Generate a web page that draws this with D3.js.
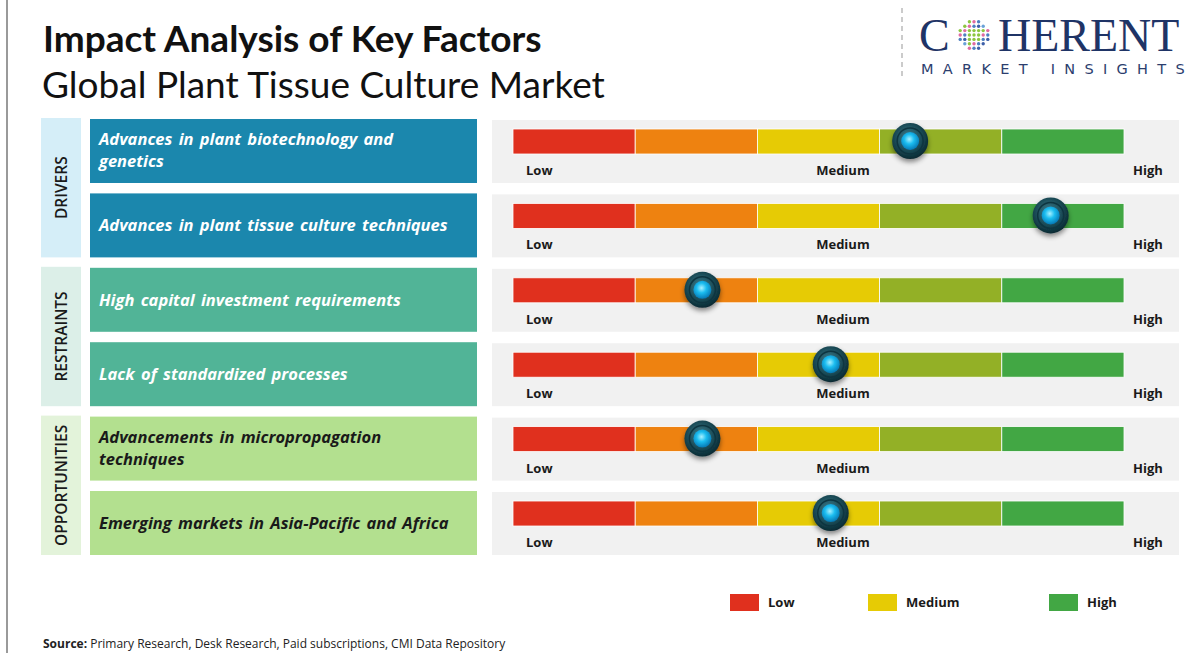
<!DOCTYPE html>
<html>
<head>
<meta charset="utf-8">
<script src="https://cdn.jsdelivr.net/npm/d3@7"></script>
<style>
  body { margin: 0; background: #fff; }
  svg { display: block; }
</style>
</head>
<body>
<svg width="1193" height="653"></svg>
<script>
// data
const groups = ['DRIVERS', 'RESTRAINTS', 'OPPORTUNITIES'];
const factors = [
  ['Advances in plant biotechnology and', 'genetics'],
  ['Advances in plant tissue culture techniques'],
  ['High capital investment requirements'],
  ['Lack of standardized  processes'],
  ['Advancements in micropropagation', 'techniques'],
  ['Emerging markets in Asia-Pacific and Africa']
];
const factorGroup = [0, 0, 1, 1, 2, 2];
const impact = [65, 88, 31, 52, 31, 52];
const levels = ['Low', 'Medium', 'High'];
const segmentStops = [0, 20, 40, 60, 80, 100];

const segColors = ['#e0301e', '#ee8210', '#e6cb05', '#93b026', '#42a744'];
const groupBg = ['#d5eef8', '#dcefe8', '#e3f3da'];
const factorBg = ['#1b87ad', '#51b497', '#b3e08f'];
const factorText = ['#ffffff', '#ffffff', '#1a1a1a'];
const legendColors = ['#e0301e', '#e6cb05', '#42a744'];

const svg = d3.select('svg');
const defs = svg.append('defs');

// marker gradients
const outerG = defs.append('radialGradient').attr('id', 'knobOuter')
  .attr('cx', '45%').attr('cy', '40%').attr('r', '60%');
outerG.append('stop').attr('offset', '0%').attr('stop-color', '#3f7f8e');
outerG.append('stop').attr('offset', '70%').attr('stop-color', '#16444f');
outerG.append('stop').attr('offset', '100%').attr('stop-color', '#0b2a33');
const innerG = defs.append('radialGradient').attr('id', 'knobInner')
  .attr('cx', '45%').attr('cy', '40%').attr('r', '60%');
innerG.append('stop').attr('offset', '0%').attr('stop-color', '#a8f0ff');
innerG.append('stop').attr('offset', '45%').attr('stop-color', '#1bbdf0');
innerG.append('stop').attr('offset', '100%').attr('stop-color', '#0679b5');
const shadow = defs.append('filter').attr('id', 'shadow')
  .attr('x', '-50%').attr('y', '-50%').attr('width', '200%').attr('height', '200%');
shadow.append('feDropShadow').attr('dx', 0).attr('dy', 3).attr('stdDeviation', 2.5)
  .attr('flood-color', '#000').attr('flood-opacity', 0.45);

// left rule
svg.append('line').attr('x1', 7).attr('x2', 7).attr('y1', 0).attr('y2', 653)
  .attr('stroke', '#9a9a9a').attr('stroke-width', 2);

// titles
svg.append('text').attr('x', 43).attr('y', 52)
  .attr('font-family', 'Lato, sans-serif').attr('font-weight', 700)
  .attr('font-size', 37).attr('fill', '#111')
  .text('Impact Analysis of Key Factors');
svg.append('text').attr('x', 42).attr('y', 98)
  .attr('font-family', 'Lato, sans-serif').attr('font-size', 37).attr('fill', '#111')
  .text('Global Plant Tissue Culture Market');

// logo
svg.append('line').attr('x1', 902).attr('x2', 902).attr('y1', 8).attr('y2', 76)
  .attr('stroke', '#bbb').attr('stroke-width', 1.5).attr('stroke-dasharray', '5,4');
const logo = svg.append('g');
logo.append('text').attr('x', 919).attr('y', 51)
  .attr('font-family', '"Liberation Serif", serif').attr('font-size', 46)
  .attr('fill', '#1f3466').text('C');
logo.append('text').attr('x', 998).attr('y', 51)
  .attr('font-family', '"Liberation Serif", serif').attr('font-size', 46)
  .attr('fill', '#1f3466').text('HERENT');
// dotted globe in place of the O
const dotColors = ['#3d5fa8', '#6aa2d8', '#8cc63f', '#e06aa0', '#4e7fc0'];
for (let r = -3; r <= 3; r++) {
  for (let c = -3; c <= 3; c++) {
    if (r * r + c * c > 11) continue;
    const near = r * r + c * c <= 3;
    logo.append('circle')
      .attr('cx', 974 + c * 4.6).attr('cy', 35 + r * 4.4).attr('r', 1.7)
      .attr('fill', near ? '#8cc63f' : dotColors[(r + c + 6) % 5]);
  }
}
logo.append('text').attr('x', 921).attr('y', 74)
  .attr('font-family', '"DejaVu Sans", sans-serif').attr('font-size', 14.5)
  .attr('letter-spacing', 9.3).attr('fill', '#2c3e6e').text('MARKET INSIGHTS');

// scales
const y = d3.scaleBand().domain(d3.range(factors.length)).range([119, 555])
  .paddingInner(0.14).paddingOuter(0);
const x = d3.scaleLinear().domain([0, 100]).range([513, 1124]);

// group boxes
groups.forEach((g, gi) => {
  const rows = d3.range(factors.length).filter(i => factorGroup[i] === gi);
  const top = y(rows[0]) - 1;
  const bot = y(rows[rows.length - 1]) + y.bandwidth();
  svg.append('rect').attr('x', 41).attr('y', top).attr('width', 40).attr('height', bot - top)
    .attr('fill', groupBg[gi]);
  svg.append('text')
    .attr('transform', `translate(67,${(top + bot) / 2}) rotate(-90)`)
    .attr('text-anchor', 'middle')
    .attr('font-family', '"Open Sans", sans-serif').attr('font-weight', 600)
    .attr('font-size', 15.5).attr('fill', '#1a1a1a').text(g);
});

// factor rows
const row = svg.selectAll('g.row').data(factors).join('g')
  .attr('class', 'row')
  .attr('transform', (d, i) => `translate(0,${y(i)})`);

row.append('rect').attr('x', 90).attr('y', 0).attr('width', 387).attr('height', y.bandwidth())
  .attr('fill', (d, i) => factorBg[factorGroup[i]]);

row.each(function(lines, i) {
  const t = d3.select(this).append('text')
    .attr('font-family', '"Open Sans", sans-serif').attr('font-weight', 700)
    .attr('font-style', 'italic').attr('font-size', 16.5).attr('word-spacing', 2)
    .attr('fill', factorText[factorGroup[i]]);
  const startY = lines.length === 1 ? y.bandwidth() / 2 + 6 : 26;
  lines.forEach((l, k) => {
    t.append('tspan').attr('x', 99).attr('y', startY + k * 22).text(l);
  });
});

// gauge panels
row.append('rect').attr('x', 492).attr('y', 1).attr('width', 687).attr('height', y.bandwidth() - 1)
  .attr('fill', '#f1f1f1');

row.selectAll('rect.seg').data(d3.pairs(segmentStops)).join('rect')
  .attr('class', 'seg')
  .attr('x', d => x(d[0]))
  .attr('y', 10)
  .attr('width', d => x(d[1]) - x(d[0]))
  .attr('height', 25)
  .attr('fill', (d, k) => segColors[k])
  .attr('stroke', '#fff').attr('stroke-width', 0.8);

const labelX = [x(0) + 13, x(54), x(100) + 9];
row.selectAll('text.lvl').data(levels).join('text')
  .attr('class', 'lvl')
  .attr('x', (d, k) => labelX[k])
  .attr('y', 56)
  .attr('text-anchor', (d, k) => k === 1 ? 'middle' : 'start')
  .attr('font-family', '"Open Sans", sans-serif').attr('font-weight', 700)
  .attr('font-size', 13).attr('fill', '#1a1a1a')
  .text(d => d);

// markers
const knob = row.append('g')
  .attr('transform', (d, i) => `translate(${x(impact[i])},22)`);
knob.append('circle').attr('r', 18).attr('fill', 'url(#knobOuter)').attr('filter', 'url(#shadow)');
knob.append('circle').attr('r', 13).attr('fill', 'none').attr('stroke', '#0e3540').attr('stroke-width', 1.5);
knob.append('circle').attr('r', 9).attr('fill', 'url(#knobInner)');

// legend
const legX = [730, 868, 1049];
const leg = svg.selectAll('g.leg').data(levels).join('g')
  .attr('class', 'leg')
  .attr('transform', (d, k) => `translate(${legX[k]},594)`);
leg.append('rect').attr('width', 29).attr('height', 17).attr('fill', (d, k) => legendColors[k]);
leg.append('text').attr('x', 38).attr('y', 13)
  .attr('font-family', '"Open Sans", sans-serif').attr('font-weight', 700)
  .attr('font-size', 13).attr('fill', '#1a1a1a').text(d => d);

// source
const src = svg.append('text').attr('x', 43).attr('y', 648)
  .attr('font-family', '"Open Sans", sans-serif').attr('font-size', 12).attr('fill', '#222');
src.append('tspan').attr('font-weight', 700).text('Source:');
src.append('tspan').text(' Primary Research, Desk Research, Paid subscriptions, CMI Data Repository');
</script>
</body>
</html>
